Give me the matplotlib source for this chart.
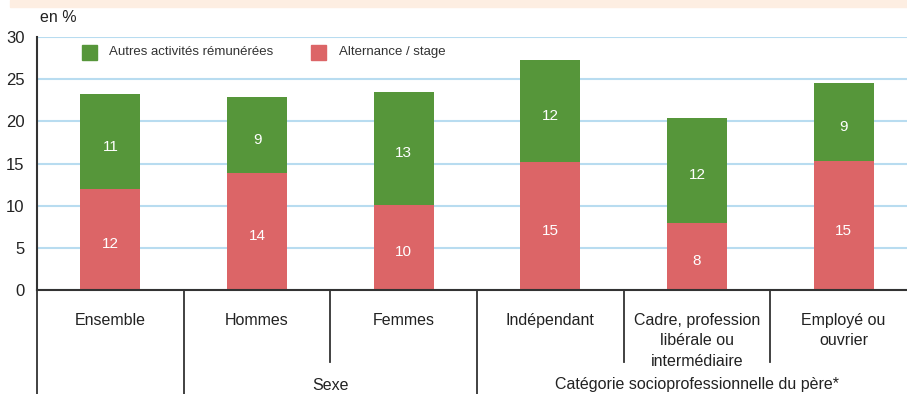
import matplotlib
matplotlib.use("Agg")
import matplotlib.pyplot as plt
from matplotlib.patches import Rectangle
import matplotlib.font_manager as fm

names = {f.name for f in fm.fontManager.ttflist}
FONT = 'Liberation Sans Narrow' if 'Liberation Sans Narrow' in names else 'Liberation Sans'
plt.rcParams['font.family'] = [FONT, 'DejaVu Sans']

categories = ["Ensemble", "Hommes", "Femmes", "Indépendant",
              "Cadre, profession\nlibérale ou\nintermédiaire", "Employé ou\nouvrier"]
groups = ["Sexe", "Catégorie socioprofessionnelle du père*"]
alternance = [12.0, 13.9, 10.1, 15.2, 8.0, 15.3]
autres = [11.2, 9.0, 13.4, 12.1, 12.4, 9.3]
series_names = ["Autres activités rémunérées", "Alternance / stage"]
yticks = [0, 5, 10, 15, 20, 25, 30]

GREEN = "#56963a"
RED = "#dc6567"
W, H = 907, 394
fig = plt.figure(figsize=(W / 100, H / 100), dpi=100)
ax = fig.add_axes([37 / W, (H - 290) / H, 880 / W, 253 / H])

x = list(range(len(categories)))
bw = 0.41
ax.bar(x, alternance, bw, color=RED, zorder=3)
ax.bar(x, autres, bw, bottom=alternance, color=GREEN, zorder=3)
off = 0.6
for i in x:
    ax.text(i, alternance[i] / 2 - off, f"{alternance[i]:.0f}", ha="center", va="center",
            color="white", fontsize=11, zorder=4)
    ax.text(i, alternance[i] + autres[i] / 2 - off, f"{autres[i]:.0f}", ha="center", va="center",
            color="white", fontsize=11, zorder=4)

ax.set_xlim(-0.5, len(categories) - 0.5)
ax.set_ylim(0, 30)
ax.set_yticks(yticks)
ax.set_yticklabels([str(v) for v in yticks], fontsize=12, color="#222222")
ax.tick_params(axis="y", length=0, pad=9)
ax.set_xticks([])
ax.grid(axis="y", color="#b8dcf0", linewidth=1.5, zorder=0)
for s in ["top", "right"]:
    ax.spines[s].set_visible(False)
ax.spines["left"].set_color("#333333")
ax.spines["left"].set_linewidth(1.5)
ax.spines["bottom"].set_color("#333333")
ax.spines["bottom"].set_linewidth(1.5)
ax.spines["bottom"].set_zorder(5)

trans = ax.get_xaxis_transform()
px = 1 / 253
long_bottom = -(394 - 290) * px - 0.05
short_bottom = -(362 - 290) * px
for b, bot in [(-0.5, long_bottom), (0.5, long_bottom), (1.5, short_bottom),
               (2.5, long_bottom), (3.5, short_bottom), (4.5, short_bottom)]:
    ax.plot([b, b], [0, bot], transform=trans, color="#333333", lw=1.3, clip_on=False)

for i, c in enumerate(categories):
    ax.text(i, -(313 - 290) * px, c, transform=trans, ha="center", va="top",
            fontsize=11.5, color="#222222", linespacing=1.45)
ax.text(1.5, -(385 - 290) * px, groups[0], transform=trans, ha="center", va="center",
        fontsize=11.5, color="#222222")
ax.text(4.0, -(385 - 290) * px, groups[1], transform=trans, ha="center", va="center",
        fontsize=11.5, color="#222222")

# legend
def fx(p):
    return p / W
def fy(p):
    return 1 - p / H
fig.patches.append(Rectangle((fx(82), fy(60)), 15 / W, 15 / H, transform=fig.transFigure,
                             color=GREEN, zorder=5))
fig.text(fx(109), fy(52), series_names[0], ha="left", va="center", fontsize=9.5, color="#333333")
fig.patches.append(Rectangle((fx(311), fy(60)), 15 / W, 15 / H, transform=fig.transFigure,
                             color=RED, zorder=5))
fig.text(fx(339), fy(52), series_names[1], ha="left", va="center", fontsize=9.5, color="#333333")

fig.text(fx(40), fy(18), "en %", ha="left", va="center", fontsize=11.5, color="#222222")

# cut title band
fig.patches.append(Rectangle((fx(10), fy(7)), 1, 7 / H, transform=fig.transFigure,
                             color="#fdeee2", zorder=0))

fig.savefig("out.png", dpi=100)
